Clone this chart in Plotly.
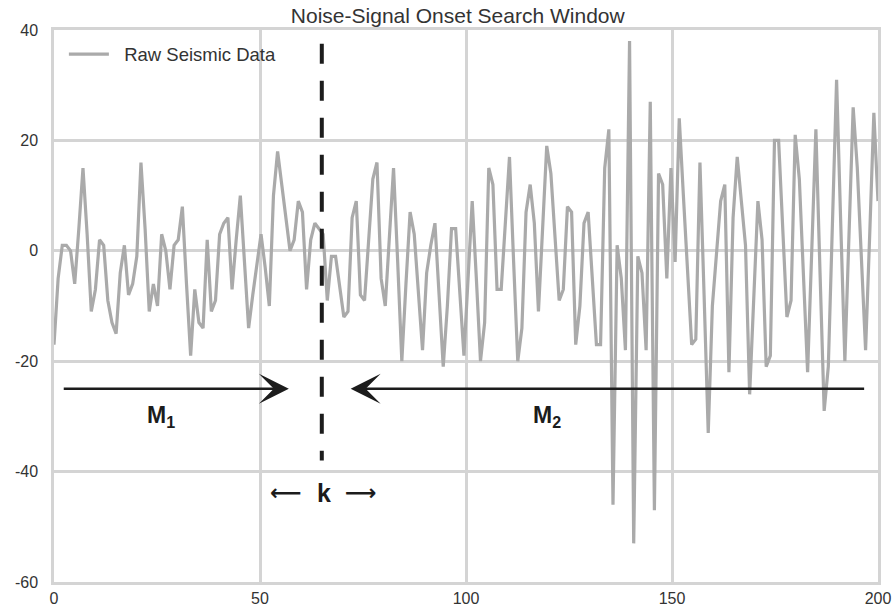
import numpy as np
import plotly.graph_objects as go

# ---- data ----
raw_values = [
    -17, -5, 1, 1, 0, -6, 4, 15, 3, -11,
    -7, 2, 1, -9, -13, -15, -4, 1, -8, -6,
    -1, 16, 4, -11, -6, -10, 3, 0, -7, 1,
    2, 8, -6, -19, -7, -13, -14, 2, -11, -9,
    3, 5, 6, -7, 2, 10, -2, -14, -8, -2,
    3, -3, -10, 10, 18, 12, 6, 0, 2, 9,
    7, -7, 2, 5, 4, 3, -9, -1, -1, -7,
    -12, -11, 6, 9, -8, -9, 2, 13, 16, -5,
    -10, 2, 15, -2, -20, -6, 7, 3, -7, -18,
    -4, 1, 5, -8, -21, -10, 4, 4, -7, -19,
    -5, 9, -5, -20, -13, 15, 12, -7, -7, 5,
    17, -2, -20, -14, 7, 12, 5, -11, 4, 19,
    14, 3, -9, -7, 8, 7, -17, -10, 5, 7,
    -5, -17, -17, 15, 22, -46, 1, -5, -18, 38,
    -53, -1, -4, -18, 27, -47, 14, 12, -5, 15,
    -2, 24, 10, -4, -17, -16, 16, -8, -33, -10,
    0, 9, 12, -22, 6, 17, 9, 1, -26, -8,
    9, 2, -21, -19, 20, 20, 4, -12, -9, 21,
    13, -4, -22, 0, 22, -4, -29, -21, 5, 31,
    5, -20, 3, 26, 15, -3, -18, 3, 25, 9,
]
x_range = [0, 200]
y_range = [-60, 40]
x_tick_vals = [0, 50, 100, 150, 200]
x_tick_text = ["0", "50", "100", "150", "200"]
y_tick_vals = [-60, -40, -20, 0, 20, 40]
y_tick_text = ["-60", "-40", "-20", "0", "20", "40"]

onset_k = 65
onset_span = [37.5, -38]
m1_arrow = {"start": 2, "end": 57}
m2_arrow = {"start": 197, "end": 72}
arrow_level = -25
label_level = -30
k_level = -43.8

x_values = np.linspace(x_range[0], x_range[1], len(raw_values))

GRID = "#d4d4d4"
TEXT = "#333333"
INK = "#1c1c1c"
SANS = "Liberation Sans, Arial, sans-serif"

fig = go.Figure()
fig.add_trace(go.Scatter(
    x=x_values, y=raw_values, mode="lines",
    name="\u00a0\u00a0Raw Seismic Data",
    line=dict(color="#aaaaaa", width=3.2),
))

# dashed onset line
fig.add_shape(type="line", xref="x", yref="y",
              x0=onset_k, x1=onset_k, y0=onset_span[0], y1=onset_span[1],
              line=dict(color=INK, width=4, dash="20px,17px"))

# arrows
for arr in (m1_arrow, m2_arrow):
    fig.add_annotation(x=arr["end"], y=arrow_level, ax=arr["start"], ay=arrow_level,
                       xref="x", yref="y", axref="x", ayref="y", text="",
                       showarrow=True, arrowhead=3, arrowsize=2, arrowwidth=2.5,
                       arrowcolor=INK, standoff=0)

fig.add_annotation(x=26, y=label_level, xref="x", yref="y", showarrow=False,
                   text="<b>M<sub>1</sub></b>",
                   font=dict(family=SANS, size=23, color=INK))
fig.add_annotation(x=119.6, y=label_level, xref="x", yref="y", showarrow=False,
                   text="<b>M<sub>2</sub></b>",
                   font=dict(family=SANS, size=23, color=INK))

# "<- k ->" label
fig.add_annotation(x=56.2, y=k_level, xref="x", yref="y", showarrow=False,
                   text="<b>⟵</b>",
                   font=dict(family="DejaVu Sans", size=22, color=INK))
fig.add_annotation(x=65.6, y=k_level, xref="x", yref="y", showarrow=False,
                   text="<b>k</b>",
                   font=dict(family=SANS, size=25, color=INK))
fig.add_annotation(x=74.6, y=k_level, xref="x", yref="y", showarrow=False,
                   text="<b>⟶</b>",
                   font=dict(family="DejaVu Sans", size=22, color=INK))

axis_common = dict(
    showgrid=True, gridcolor=GRID, gridwidth=2.5,
    showline=True, linecolor=GRID, linewidth=2.5, mirror=True,
    zeroline=False, ticks="", ticklen=0, automargin=False,
    tickfont=dict(family=SANS, size=16, color=TEXT),
)
fig.update_xaxes(range=x_range, tickvals=x_tick_vals, ticktext=x_tick_text,
                 ticklabelstandoff=0, **axis_common)
fig.update_yaxes(range=y_range, tickvals=y_tick_vals, ticktext=y_tick_text,
                 ticklabelstandoff=10, **axis_common)

fig.update_layout(
    width=895, height=609,
    margin=dict(l=54, r=17, t=30, b=27, autoexpand=False),
    plot_bgcolor="white", paper_bgcolor="white",
    title=dict(text="Noise-Signal Onset Search Window", xref="paper", x=0.49,
               xanchor="center", yref="container", y=1 - 16 / 609, yanchor="middle",
               font=dict(family=SANS, size=21, color=TEXT)),
    showlegend=True,
    legend=dict(x=0.012, y=0.99, xanchor="left", yanchor="top",
                bgcolor="rgba(0,0,0,0)", itemwidth=40,
                font=dict(family=SANS, size=18.5, color=TEXT)),
)

fig.write_html("out.html")
